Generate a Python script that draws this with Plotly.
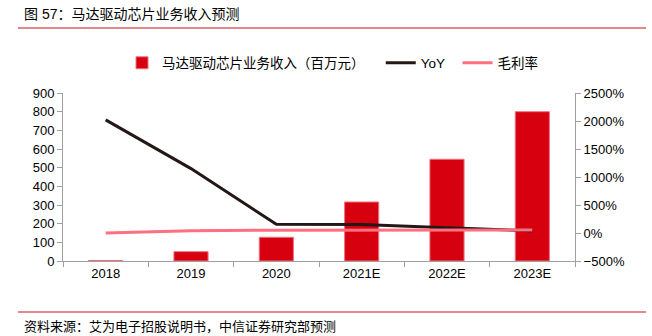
import plotly.graph_objects as go

categories = ["2018", "2019", "2020", "2021E", "2022E", "2023E"]
revenue = [3, 50, 127, 316, 545, 800]
yoy = [2020, 1150, 155, 150, 95, 38]
margin = [0, 40, 50, 52, 53, 54]

FONT = "Liberation Sans, Arial, Noto Sans CJK SC, sans-serif"
L, R, T, B = 63, 575, 93, 261
W, H = 652, 336
NB = "\u00a0"

def px(x):
    return (x - L) / (R - L)

def py(y):
    return (B - y) / (B - T)

fig = go.Figure()
fig.add_trace(go.Bar(
    x=categories, y=revenue, name="马达驱动芯片业务收入（百万元）" + NB * 3,
    marker=dict(color="#d7000f", line=dict(color="#f07080", width=1)),
    width=0.4,
))
fig.add_trace(go.Scatter(
    x=categories, y=yoy, name="YoY" + NB * 2, mode="lines", yaxis="y2",
    line=dict(color="#231815", width=3),
))
fig.add_trace(go.Scatter(
    x=categories, y=margin, name="毛利率", mode="lines", yaxis="y2",
    line=dict(color="#ff6f7f", width=3),
))

fig.update_layout(
    width=W, height=H,
    margin=dict(l=L, r=W - R, t=T, b=H - B, pad=0),
    paper_bgcolor="white", plot_bgcolor="white",
    font=dict(family=FONT, size=13, color="#000"),
    bargap=0.6,
    showlegend=True,
    legend=dict(orientation="h", x=px(333), xanchor="center", y=py(63), yanchor="middle",
                font=dict(size=13.5), itemwidth=30, tracegroupgap=0,
                bgcolor="rgba(0,0,0,0)"),
    xaxis=dict(
        type="category", showgrid=False, showline=True, linecolor="#a0a0a0", linewidth=1,
        ticks="outside", tickson="boundaries", ticklen=5, tickcolor="#a0a0a0",
        tickfont=dict(size=13),
    ),
    yaxis=dict(
        range=[0, 900], dtick=100, showgrid=False, zeroline=False,
        showline=True, linecolor="#a0a0a0", linewidth=1,
        ticks="outside", ticklen=5, tickcolor="#a0a0a0", tickfont=dict(size=13),
    ),
    yaxis2=dict(
        range=[-500, 2500], dtick=500, overlaying="y", side="right", showgrid=False,
        zeroline=False, showline=True, linecolor="#a0a0a0", linewidth=1,
        ticks="outside", ticklen=5, tickcolor="#a0a0a0", ticksuffix="%",
        tickfont=dict(size=13),
    ),
)

fig.add_annotation(text="图 57：马达驱动芯片业务收入预测", xref="paper", yref="paper",
                   x=px(22), y=py(14), xanchor="left", yanchor="middle", showarrow=False,
                   font=dict(size=14, color="#000"))
fig.add_annotation(text="资料来源：艾为电子招股说明书，中信证券研究部预测", xref="paper", yref="paper",
                   x=px(22), y=py(326), xanchor="left", yanchor="middle", showarrow=False,
                   font=dict(size=13, color="#000"))
fig.add_shape(type="line", xref="paper", yref="paper", x0=px(18), x1=px(646), y0=py(28), y1=py(28),
              line=dict(color="#d9606a", width=1.5))
fig.add_shape(type="line", xref="paper", yref="paper", x0=px(18), x1=px(646), y0=py(312), y1=py(312),
              line=dict(color="#d9606a", width=1.5))

fig.write_html("out.html")
